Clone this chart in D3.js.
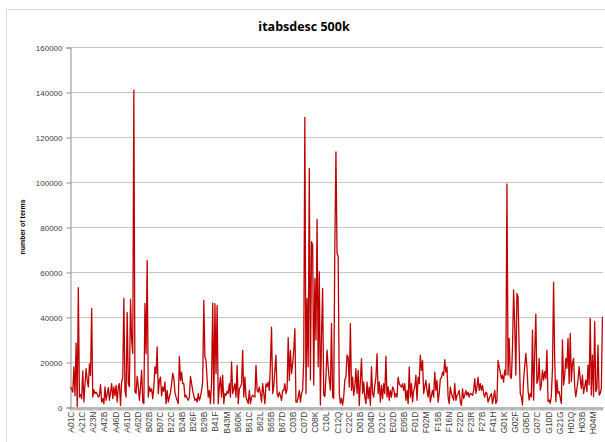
<!DOCTYPE html>
<html>
<head>
<meta charset="utf-8">
<script src="https://cdn.jsdelivr.net/npm/d3@7"></script>
<style>
    body { margin: 0; background: #fff; }
    svg { display: block; }
    .tick text { fill: #404040; }
</style>
</head>
<body>
<svg id="chart"></svg>
<script>
const title = "itabsdesc 500k";
const yTitle = "number of terms";

// one label for every 10 categories
const tickLabels = ["A01C", "A21C", "A23N", "A42B", "A46D", "A61D", "A62D", "B02B", "B07C", "B22C",
    "B24B", "B26F", "B29B", "B41F", "B43M", "B60K", "B61C", "B62L", "B65B", "B67D",
    "C03B", "C07D", "C08K", "C10L", "C12Q", "C22C", "D01B", "D04D", "D21C", "E02D",
    "E05B", "F01D", "F02M", "F15B", "F16N", "F22D", "F23R", "F27B", "F41H", "G01K",
    "G02F", "G05D", "G07C", "G10D", "G21G", "H01Q", "H03B", "H04M"];

const yTicks = [0, 20000, 40000, 60000, 80000, 100000, 120000, 140000, 160000];

const terms = [
    8900, 8000, 6600, 17800, 5000, 28400, 200, 53000, 4400, 5500,
    3700, 16000, 2200, 10000, 17000, 12000, 8900, 19200, 14000, 43700,
    4400, 7700, 6000, 6600, 5800, 4400, 5000, 10000, 2200, 3700,
    1500, 8900, 3000, 6000, 8600, 3000, 6600, 10400, 3700, 8900,
    5000, 9600, 2200, 8900, 10400, 700, 11000, 13000, 48300, 7400,
    4400, 42000, 10400, 9000, 47800, 30000, 23800, 140800, 6800, 6000,
    13600, 8900, 3000, 9000, 16300, 2200, 1500, 46000, 23700, 65000,
    4400, 8900, 7000, 8100, 3700, 8900, 17800, 14800, 26700, 6000,
    11800, 13300, 5000, 8900, 7000, 11100, 1500, 7400, 2200, 4400,
    6500, 10400, 15000, 12600, 6600, 4400, 3000, 1500, 22500, 11800,
    15500, 10400, 10400, 4400, 5200, 4000, 3000, 4400, 13600, 10400,
    7400, 5000, 3000, 3700, 2200, 6000, 3000, 4500, 7400, 11100,
    47400, 22200, 20700, 12000, 4400, 7400, 1500, 11100, 46200, 1500,
    45900, 14800, 45100, 1500, 9000, 13300, 4400, 14100, 1500, 6000,
    5200, 7000, 6000, 10400, 4400, 20000, 6000, 8000, 10400, 4400,
    18500, 1500, 8100, 9000, 10400, 25200, 4400, 13300, 4400, 3000,
    1500, 7400, 1500, 4400, 5200, 4800, 4400, 18500, 7400, 6600,
    8900, 6000, 2200, 10400, 6000, 1500, 10400, 9000, 11100, 7400,
    19200, 35500, 6000, 9000, 16300, 23000, 6000, 4400, 6600, 5000,
    3000, 7400, 7400, 10400, 6000, 8000, 30800, 11800, 25200, 14800,
    19200, 25000, 34800, 2200, 2200, 4400, 7400, 2200, 6000, 7500,
    20900, 128700, 6000, 48300, 17900, 106000, 12000, 73500, 72000, 9800,
    57200, 29800, 83400, 17900, 60100, 900, 31200, 52700, 5300, 4600,
    13500, 25300, 17900, 12000, 7500, 37200, 4600, 3800, 71200, 113400,
    68300, 66800, 6000, 1600, 3800, 900, 4600, 12000, 13500, 23100,
    22200, 8900, 37000, 7400, 13300, 5200, 8900, 17000, 6000, 16300,
    700, 11800, 21500, 6000, 11100, 4400, 1500, 11100, 3700, 8900,
    700, 17800, 6000, 4400, 9600, 13300, 23700, 6000, 11100, 2200,
    9600, 3700, 10400, 6000, 22600, 4400, 8900, 3000, 7400, 4400,
    8900, 8100, 4400, 6000, 4400, 13300, 10400, 9500, 8900, 10400,
    7400, 10400, 3000, 7400, 1500, 17800, 4400, 10400, 2200, 7400,
    9000, 14100, 3000, 13300, 10400, 23000, 16300, 20700, 6000, 9000,
    11800, 7400, 4400, 10400, 2200, 5000, 7400, 4400, 15500, 7400,
    11800, 2200, 6000, 12600, 13000, 15500, 14100, 21000, 15500, 17800,
    4400, 1500, 8900, 6000, 4400, 3000, 10400, 3000, 5000, 6000,
    7400, 2200, 700, 8100, 3700, 5500, 7400, 5200, 6600, 4400,
    6000, 5800, 5200, 7400, 12600, 6000, 9000, 13300, 7400, 10400,
    7400, 9600, 6000, 4400, 6600, 6000, 2200, 3700, 5000, 6000,
    1500, 4400, 7400, 1500, 3000, 20700, 17800, 15500, 12600, 14100,
    11100, 16400, 14200, 99100, 14200, 30500, 13500, 12700, 26800, 52000,
    36400, 14200, 50500, 49000, 25300, 6000, 4600, 900, 12000, 18000,
    23800, 17900, 7500, 3100, 6000, 4500, 34200, 3100, 23800, 41300,
    10500, 12000, 21600, 7500, 10000, 16400, 12000, 15700, 12700, 25300,
    2400, 3100, 1600, 5000, 17200, 55400, 20900, 2400, 12000, 6000,
    6800, 4000, 1600, 29800, 9800, 14000, 21600, 17200, 30500, 10500,
    32700, 11300, 19400, 21600, 9000, 4600, 8000, 12000, 17900, 12700,
    8300, 14200, 6000, 9000, 12000, 6800, 18700, 9800, 39400, 5300,
    23100, 4600, 37900, 6800, 8300, 27500, 5300, 6000, 8300, 40100
];

class LineChart {
    margin = { top: 47, right: 2, bottom: 35, left: 70 }

    constructor(svg, width = 605, height = 442) {
        this.svg = svg;
        this.width = width;
        this.height = height;
    }

    initialize() {
        this.svg = d3.select(this.svg)
            .attr("width", this.width)
            .attr("height", this.height);

        // chart area frame, runs off the right and bottom edges
        this.svg.append("rect")
            .attr("x", 6.5).attr("y", 9.5)
            .attr("width", 640).attr("height", 460)
            .attr("fill", "#fff")
            .attr("stroke", "#d9d9d9");

        this.innerW = this.width - this.margin.left - this.margin.right;
        this.innerH = this.height - this.margin.top - this.margin.bottom;

        this.xScale = d3.scaleBand().padding(0);
        this.yScale = d3.scaleLinear();

        this.grid = this.svg.append("g");
        this.xAxis = this.svg.append("g");
        this.yAxis = this.svg.append("g");
        this.container = this.svg.append("g");
    }

    update(values) {
        const left = this.margin.left, top = this.margin.top;
        const bottom = top + this.innerH;

        this.xScale.domain(d3.range(values.length)).range([left, left + this.innerW]);
        this.yScale.domain([0, 160000]).range([bottom, top]);

        this.grid.selectAll("line")
            .data(yTicks.slice(1))
            .join("line")
            .attr("x1", left)
            .attr("x2", left + this.innerW)
            .attr("y1", d => Math.round(this.yScale(d)) + 0.5)
            .attr("y2", d => Math.round(this.yScale(d)) + 0.5)
            .attr("stroke", "#c6c6c6")
            .attr("stroke-width", 1);

        this.yAxis
            .attr("transform", `translate(${left + 0.5}, 0.5)`)
            .call(d3.axisLeft(this.yScale).tickValues(yTicks).tickSize(4).tickPadding(4).tickFormat(d3.format("d")))
            .call(g => g.selectAll("path, line").attr("stroke", "#8c8c8c"))
            .call(g => g.selectAll("text")
                .attr("font-family", "Liberation Sans, Arial, sans-serif")
                .attr("font-size", "8px"));

        const half = this.xScale.bandwidth() / 2;
        this.xAxis
            .attr("transform", `translate(0, ${bottom + 0.5})`)
            .call(d3.axisBottom(this.xScale)
                .tickSize(3)
                .tickSizeOuter(0)
                .tickFormat(i => i % 10 === 0 ? tickLabels[i / 10] : ""))
            .call(g => g.select(".domain").attr("stroke", "#8c8c8c").attr("stroke-width", 1.2))
            .call(g => g.selectAll(".tick line").attr("stroke", "#b0b0b0"))
            .call(g => g.selectAll("text")
                .attr("font-family", "Liberation Sans, Arial, sans-serif")
                .attr("font-size", "8.5px")
                .attr("text-anchor", "end")
                .attr("dy", "0.35em")
                .attr("transform", `translate(${half}, 0) rotate(-90)`)
                .attr("x", -4).attr("y", 0));

        const line = d3.line()
            .x((d, i) => this.xScale(i) + half)
            .y(d => this.yScale(d));

        this.container.selectAll("path")
            .data([values])
            .join("path")
            .attr("d", line)
            .attr("fill", "none")
            .attr("stroke", "#c00000")
            .attr("stroke-width", 1.3)
            .attr("stroke-linejoin", "round");

        this.svg.append("text")
            .attr("x", 304).attr("y", 31)
            .attr("text-anchor", "middle")
            .attr("font-family", "Open Sans, sans-serif")
            .attr("font-weight", "bold")
            .attr("font-size", "12.5px")
            .attr("fill", "#000")
            .text(title);

        this.svg.append("text")
            .attr("transform", `translate(25, 227) rotate(-90)`)
            .attr("text-anchor", "middle")
            .attr("font-family", "Liberation Sans, Arial, sans-serif")
            .attr("font-weight", "bold")
            .attr("font-size", "7px")
            .attr("fill", "#000")
            .text(yTitle);
    }
}

const chart = new LineChart(document.getElementById("chart"));
chart.initialize();
chart.update(terms);
</script>
</body>
</html>
